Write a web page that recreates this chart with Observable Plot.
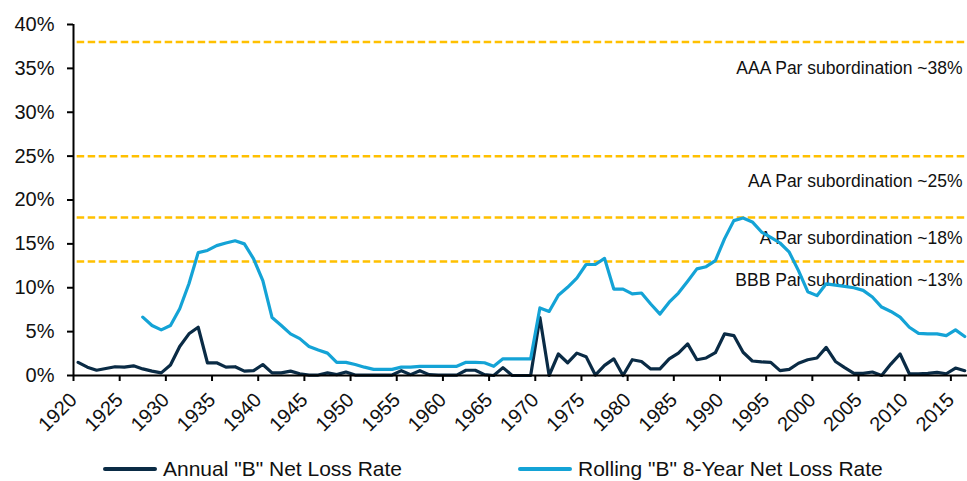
<!DOCTYPE html>
<html>
<head>
<meta charset="utf-8">
<script src="https://cdn.jsdelivr.net/npm/d3@7"></script>
<script src="https://cdn.jsdelivr.net/npm/@observablehq/plot@0.6"></script>
<style>
  html, body { margin: 0; padding: 0; background: #ffffff; }
  body { width: 967px; height: 481px; position: relative; overflow: hidden; font-family: "Liberation Sans", Arial, sans-serif; }
  #chart svg { display: block; }
  .leg { position: absolute; top: 456px; display: flex; align-items: center; font-size: 21px; color: #111; line-height: 26px; white-space: nowrap; }
  .leg .sw { width: 54px; height: 4px; border-radius: 2px; margin-right: 6px; }
</style>
</head>
<body>
<div id="chart"></div>
<div class="leg" style="left:103px"><span class="sw" style="background:#0a2b45"></span><span>Annual "B" Net Loss Rate</span></div>
<div class="leg" style="left:518px"><span class="sw" style="background:#14a3d6"></span><span>Rolling "B" 8-Year Net Loss Rate</span></div>
<script>
// ---- data (percent) ----
const years = d3.range(1920, 2017);
const annualRate = [
  1.5, 0.95, 0.6, 0.8, 1.0, 0.95, 1.1, 0.75, 0.5, 0.3,      // 1920-1929
  1.2, 3.3, 4.75, 5.5, 1.45, 1.45, 0.95, 1.0, 0.5, 0.55,    // 1930-1939
  1.25, 0.3, 0.3, 0.5, 0.2, 0.05, 0.05, 0.3, 0.1, 0.4,      // 1940-1949
  0.05, 0.05, 0.05, 0.05, 0.05, 0.55, 0.1, 0.55, 0.1, 0.05, // 1950-1959
  0.05, 0.05, 0.6, 0.6, 0.1, 0.0, 0.9, 0.0, 0.0, 0.0,       // 1960-1969
  6.6, 0.0, 2.45, 1.45, 2.55, 2.15, 0.05, 1.15, 1.9, 0.0,   // 1970-1979
  1.8, 1.6, 0.75, 0.75, 1.9, 2.55, 3.6, 1.8, 2.0, 2.6,      // 1980-1989
  4.75, 4.55, 2.65, 1.65, 1.55, 1.5, 0.55, 0.7, 1.4, 1.8,   // 1990-1999
  2.0, 3.2, 1.6, 0.9, 0.25, 0.25, 0.4, 0.0, 1.3, 2.45,      // 2000-2009
  0.2, 0.2, 0.25, 0.35, 0.2, 0.85, 0.55                     // 2010-2016
];
const rollingRate = [
  null, null, null, null, null, null, null, 6.65, 5.7, 5.2, // 1920-1929
  5.7, 7.6, 10.45, 14.0, 14.25, 14.8, 15.1, 15.35, 15.0, 13.3, // 1930-1939
  10.8, 6.6, 5.7, 4.75, 4.2, 3.3, 2.9, 2.55, 1.5, 1.5,      // 1940-1949
  1.25, 0.95, 0.7, 0.7, 0.7, 0.95, 0.95, 1.05, 1.05, 1.05,  // 1950-1959
  1.05, 1.05, 1.5, 1.5, 1.45, 1.05, 1.9, 1.9, 1.9, 1.9,     // 1960-1969
  7.7, 7.3, 9.15, 10.05, 11.1, 12.65, 12.65, 13.35, 9.85, 9.85, // 1970-1979
  9.3, 9.4, 8.15, 7.0, 8.35, 9.4, 10.75, 12.15, 12.4, 13.1, // 1980-1989
  15.6, 17.65, 17.95, 17.5, 16.35, 15.75, 15.1, 14.05, 11.95, 9.55, // 1990-1999
  9.1, 10.45, 10.3, 10.15, 10.0, 9.7, 8.95, 7.8, 7.3, 6.65, // 2000-2009
  5.5, 4.8, 4.75, 4.75, 4.55, 5.2, 4.45                     // 2010-2016
];
const seriesNames = ['Annual "B" Net Loss Rate', 'Rolling "B" 8-Year Net Loss Rate'];
const subordinationLevels = [38, 25, 18, 13];
const subordinationLabels = [
  "AAA Par subordination ~38%",
  "AA Par subordination ~25%",
  "A Par subordination ~18%",
  "BBB Par subordination ~13%"
];
const yTicks = [0, 5, 10, 15, 20, 25, 30, 35, 40];
const xTicks = d3.range(1920, 2016, 5);

// ---- build table ----
const rows = years.map((year, i) => ({year, annual: annualRate[i], rolling: rollingRate[i]}));
const labelOffsets = [26, 25, 21, 19];

const chart = Plot.plot({
  width: 967,
  height: 440,
  marginLeft: 73,
  marginRight: 0,
  marginTop: 24,
  marginBottom: 65,
  style: {fontFamily: '"Liberation Sans", Arial, sans-serif', color: "#111", background: "#fff"},
  x: {domain: [1920, 2016.8]},
  y: {domain: [0, 40]},
  marks: [
    Plot.ruleY(subordinationLevels, {y: d => d, x1: 1920.4, x2: 2016.8, stroke: "#ffc000", strokeWidth: 2.5, strokeDasharray: "7.5,3.5"}),
    ...subordinationLevels.map((lvl, i) =>
      Plot.text([subordinationLabels[i]], {
        y: [lvl], text: d => d, frameAnchor: "right", textAnchor: "end",
        dx: -5, dy: labelOffsets[i], fontSize: 17.5, fill: "#111"
      })
    ),
    Plot.line(rows, {x: d => d.year + 0.5, y: "annual", stroke: "#0a2b45", strokeWidth: 3.2, strokeLinejoin: "round", curve: "linear"}),
    Plot.line(rows.filter(d => d.rolling != null), {x: d => d.year + 0.5, y: "rolling", stroke: "#14a3d6", strokeWidth: 3.2, strokeLinejoin: "round", curve: "linear"}),
    Plot.ruleX([1920], {stroke: "#000", strokeWidth: 2}),
    Plot.ruleY([0], {stroke: "#000", strokeWidth: 2}),
    Plot.axisY({ticks: yTicks, tickFormat: d => d + "%", tickSize: 6, tickPadding: 13, fontSize: 20, label: null, stroke: "#000", strokeWidth: 2}),
    Plot.axisX({ticks: xTicks, tickFormat: d => String(d), tickSize: 6, tickPadding: 15, tickRotate: -45, fontSize: 20, label: null, stroke: "#000", strokeWidth: 2})
  ]
});
document.getElementById("chart").appendChild(chart);
</script>
</body>
</html>
